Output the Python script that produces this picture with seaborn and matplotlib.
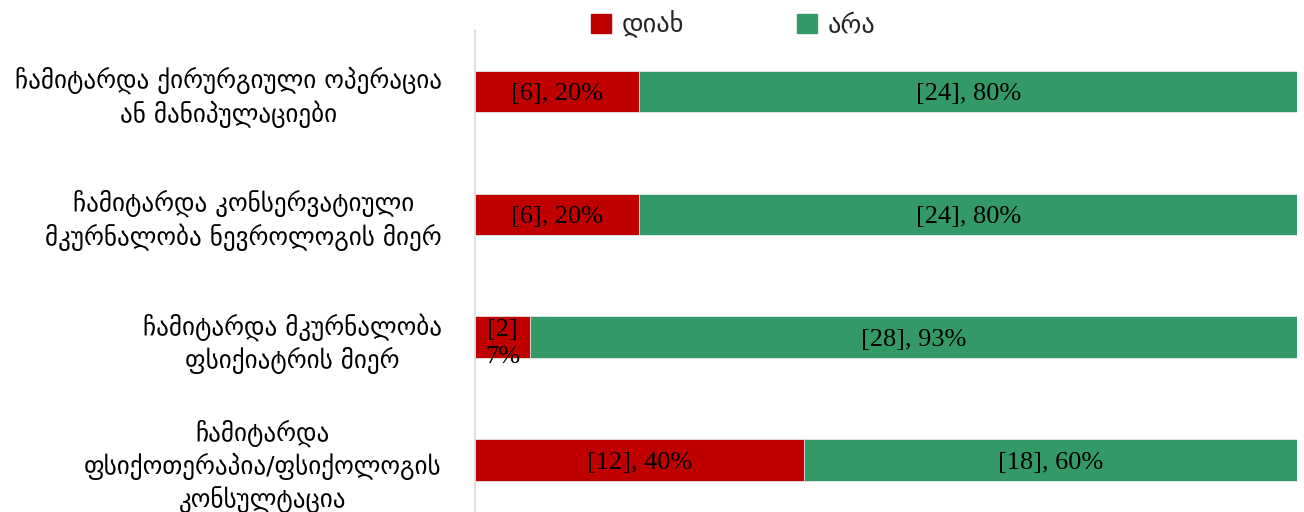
import matplotlib
matplotlib.use('Agg')

import pandas as pd
import matplotlib.pyplot as plt
import seaborn as sns

# --- 資料 ---
categories = [
    'ჩამიტარდა ქირურგიული ოპერაცია\nან მანიპულაციები',
    'ჩამიტარდა კონსერვატიული\nმკურნალობა ნევროლოგის მიერ',
    'ჩამიტარდა მკურნალობა\nფსიქიატრის მიერ',
    'ჩამიტარდა\nფსიქოთერაპია/ფსიქოლოგის\nკონსულტაცია',
]
yes_counts = [6, 6, 2, 12]
no_counts = [24, 24, 28, 18]
series_names = ['დიახ', 'არა']
series_colors = ['#C00000', '#339966']


def main():
    sns.set_theme(style='white')
    plt.rcParams['font.family'] = ['Liberation Serif', 'DejaVu Serif', 'DejaVu Sans']
    geo_font = ['DejaVu Sans']

    df = pd.DataFrame({'კატეგორია': categories, 'დიახ': yes_counts, 'არა': no_counts})
    df['total'] = df['დიახ'] + df['არა']
    df['yes_pct'] = df['დიახ'] / df['total'] * 100
    df['no_pct'] = df['არა'] / df['total'] * 100
    df['cum'] = df['yes_pct'] + df['no_pct']

    fig = plt.figure(figsize=(13.04, 5.12), dpi=100)
    ax = fig.add_axes([475 / 1304, 0, 822 / 1304, 482 / 512])

    # 堆疊：先畫累計(綠)，再畫 დიახ(紅)
    sns.barplot(data=df, x='cum', y='კატეგორია', color=series_colors[1], width=0.34,
                orient='h', ax=ax, saturation=1, edgecolor='#e8e8e8', linewidth=0.6)
    sns.barplot(data=df, x='yes_pct', y='კატეგორია', color=series_colors[0], width=0.34,
                orient='h', ax=ax, saturation=1, edgecolor='#e8e8e8', linewidth=0.6)

    ax.set_xlim(0, 100)
    ax.set_ylim(3.42, -0.5)
    ax.set_xlabel(''); ax.set_ylabel('')
    ax.set_xticks([])
    for s in ['top', 'right', 'bottom']:
        ax.spines[s].set_visible(False)
    ax.spines['left'].set_color('#d9d9d9')
    ax.spines['left'].set_linewidth(1.2)
    ax.tick_params(axis='y', length=0, pad=24)
    for lbl in ax.get_yticklabels():
        lbl.set_fontsize(18)
        lbl.set_multialignment('center')
        lbl.set_linespacing(1.3)
        lbl.set_family(geo_font)
        lbl.set_color('black')

    # 數值標籤
    for i, row in df.iterrows():
        y_pct = round(row['yes_pct'])
        n_pct = round(row['no_pct'])
        if row['yes_pct'] < 10:
            ax.text(row['yes_pct'] / 2, i + 0.05, f"[{row['დიახ']}]\n{y_pct}%", ha='center',
                    va='center', fontsize=19, color='black', linespacing=1.25)
        else:
            ax.text(row['yes_pct'] / 2, i, f"[{row['დიახ']}], {y_pct}%", ha='center',
                    va='center_baseline', fontsize=19, color='black')
        ax.text(row['yes_pct'] + row['no_pct'] / 2, i, f"[{row['არა']}], {n_pct}%",
                ha='center', va='center_baseline', fontsize=19, color='black')

    # 圖例
    handles = [plt.Rectangle((0, 0), 1, 1, color=c) for c in series_colors]
    fig.legend(handles, series_names, loc='center', bbox_to_anchor=(733 / 1304, 1 - 25 / 512),
               ncol=2, frameon=False, handlelength=0.75, handleheight=0.75,
               handletextpad=0.4, columnspacing=4.3, prop={'family': geo_font, 'size': 19})

    fig.savefig('out.png', dpi=100)
    plt.close(fig)


if __name__ == '__main__':
    main()
